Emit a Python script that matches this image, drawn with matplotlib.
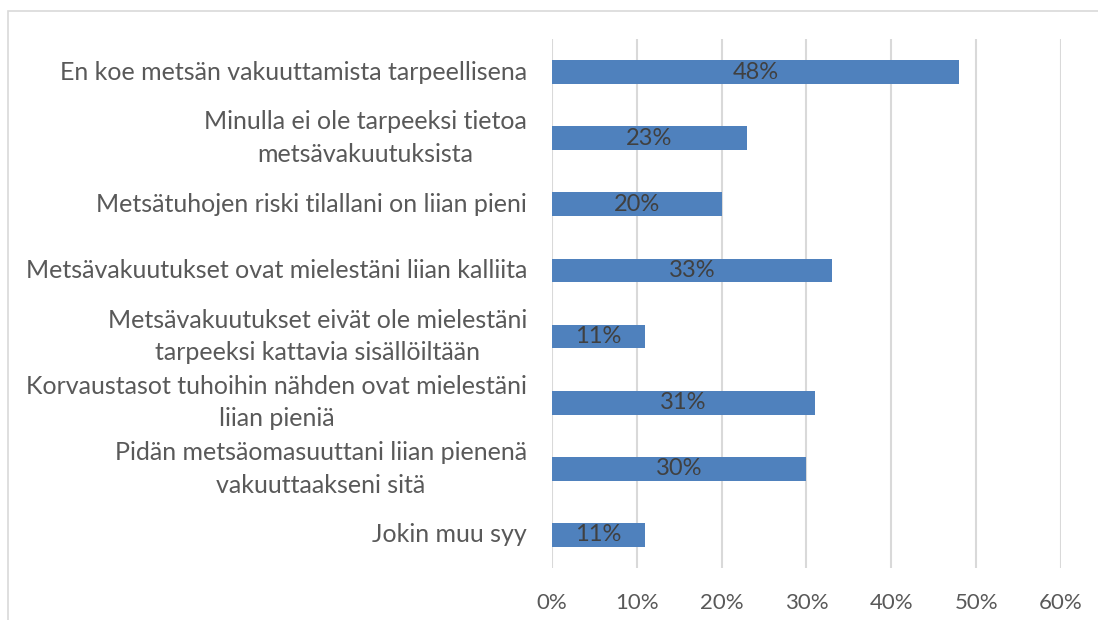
import matplotlib.pyplot as plt
from matplotlib.patches import Rectangle
from matplotlib.ticker import PercentFormatter

plt.rcParams["font.family"] = ["Lato", "DejaVu Sans"]

# survey answers, top to bottom
categories = [
    "En koe metsän vakuuttamista tarpeellisena",
    "Minulla ei ole tarpeeksi tietoa\nmetsävakuutuksista",
    "Metsätuhojen riski tilallani on liian pieni",
    "Metsävakuutukset ovat mielestäni liian kalliita",
    "Metsävakuutukset eivät ole mielestäni\ntarpeeksi kattavia sisällöiltään",
    "Korvaustasot tuhoihin nähden ovat mielestäni\nliian pieniä",
    "Pidän metsäomasuuttani liian pienenä\nvakuuttaakseni sitä",
    "Jokin muu syy",
]
values = [48, 23, 20, 33, 11, 31, 30, 11]
xticks = [0, 10, 20, 30, 40, 50, 60]

bar_color = "#4F81BD"
text_color = "#595959"
grid_color = "#D9D9D9"

fig = plt.figure(figsize=(10.98, 6.2), dpi=100)
ax = fig.add_axes([0.5027, 0.0839, 0.4636, 0.8532])

# chart area border
fig.patches.append(Rectangle((8 / 1098, -0.1), 1.2, 1 - 11 / 620 + 0.1,
                             transform=fig.transFigure, fill=False,
                             edgecolor=grid_color, linewidth=1.2))

ypos = list(range(len(categories)))
bars = ax.barh(ypos, values, height=0.36, color=bar_color, zorder=3)
for b, v in zip(bars, values):
    ax.text(b.get_width() / 2, b.get_y() + b.get_height() / 2, f"{v}%",
            ha="center", va="center", fontsize=17, color="#404040", zorder=4)

ax.set_xlim(0, 60)
ax.set_ylim(len(categories) - 0.5, -0.5)
ax.set_xticks(xticks)
ax.xaxis.set_major_formatter(PercentFormatter(decimals=0))
ax.set_yticks(ypos)
ax.set_yticklabels(categories)
ax.tick_params(axis="y", length=0, pad=18, labelsize=18, labelcolor=text_color)
ax.tick_params(axis="x", length=0, pad=18, labelsize=16, labelcolor=text_color)
for lab in ax.get_yticklabels():
    lab.set_multialignment("center")
    lab.set_linespacing(1.5)
    lab.set_verticalalignment("center")
ax.grid(axis="x", color=grid_color, linewidth=1.5, zorder=0)
for s in ax.spines.values():
    s.set_visible(False)

fig.savefig("out.png", dpi=100)
